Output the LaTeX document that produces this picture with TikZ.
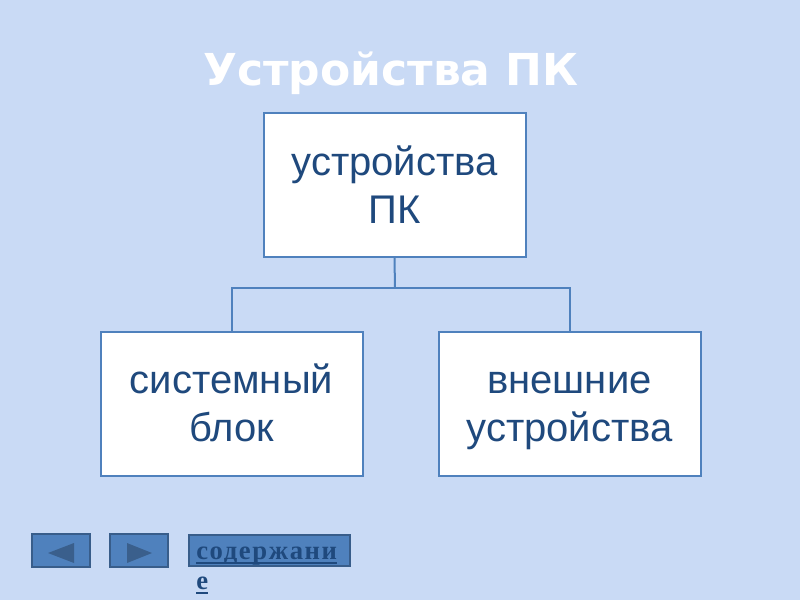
\documentclass[tikz,border=0pt]{standalone}
\usepackage{fontspec}
\setmainfont{Liberation Sans}
\newfontfamily\titlefont{DejaVu Sans}
\newfontfamily\navfont[LetterSpace=6]{Liberation Serif}
\definecolor{slidebg}{HTML}{C9DAF5}
\definecolor{boxline}{HTML}{4F81BD}
\definecolor{boxtext}{HTML}{1F497D}
\definecolor{navfill}{HTML}{4F81BD}
\definecolor{navline}{HTML}{385D8A}
\definecolor{navarrow}{HTML}{3A5F8C}
\newcommand{\navul}[1]{{\setbox0\hbox{#1}\rlap{\rule[-4pt]{\wd0}{1.4pt}}\box0}}
\tikzset{
  pcbox/.style={draw=boxline, line width=1.5pt, fill=white, minimum width=196.5pt,
    minimum height=108pt, align=center, text=boxtext,
    font=\fontsize{30}{36}\selectfont, text height=57pt, text depth=0pt},
  navbtn/.style={draw=navline, line width=1.2pt, fill=navfill, minimum width=43.5pt,
    minimum height=24.75pt, inner sep=0pt},
  navtri/.style={fill=navarrow, draw=none},
  tree/.style={draw=boxline, line width=1.5pt}
}
\begin{document}
\begin{tikzpicture}[x=0.75pt,y=-0.75pt]
\fill [slidebg] (0,0) rectangle (800,600);
\useasboundingbox (0,0) rectangle (800,600);
% title
\node [text=white, font=\titlefont\bfseries\fontsize{33}{39}\selectfont] (title) at (391,73) {Устройства ПК};
% boxes
\node [pcbox] (pc) at (394.5,185) {устройства\\ПК};
\node [pcbox] (sys) at (231.5,403.5) {системный\\блок};
\node [pcbox] (ext) at (569.5,403.5) {внешние\\устройства};
% connectors
\coordinate (fork) at (395,288);
\draw [tree] (pc.south) -- (fork);
\draw [tree] (sys.north) |- (fork) -| (ext.north);
% navigation
\node [navbtn] (back) at (61,550.5) {};
\node [navbtn] (next) at (139,550.5) {};
\fill [navtri] (48,553) -- (74,543) -- (74,563) -- cycle;
\fill [navtri] (152,553) -- (127,543) -- (127,563) -- cycle;
\node [navbtn, minimum width=120.75pt, minimum height=23.25pt] (cont) at (269.5,550.5) {};
\node [anchor=base west, align=left, inner sep=0pt, text=boxtext,
  font=\navfont\bfseries\fontsize{20}{22.5}\selectfont] (conttext) at (196,589)
  {\navul{содержани}\\\navul{е}};
\end{tikzpicture}
\end{document}
